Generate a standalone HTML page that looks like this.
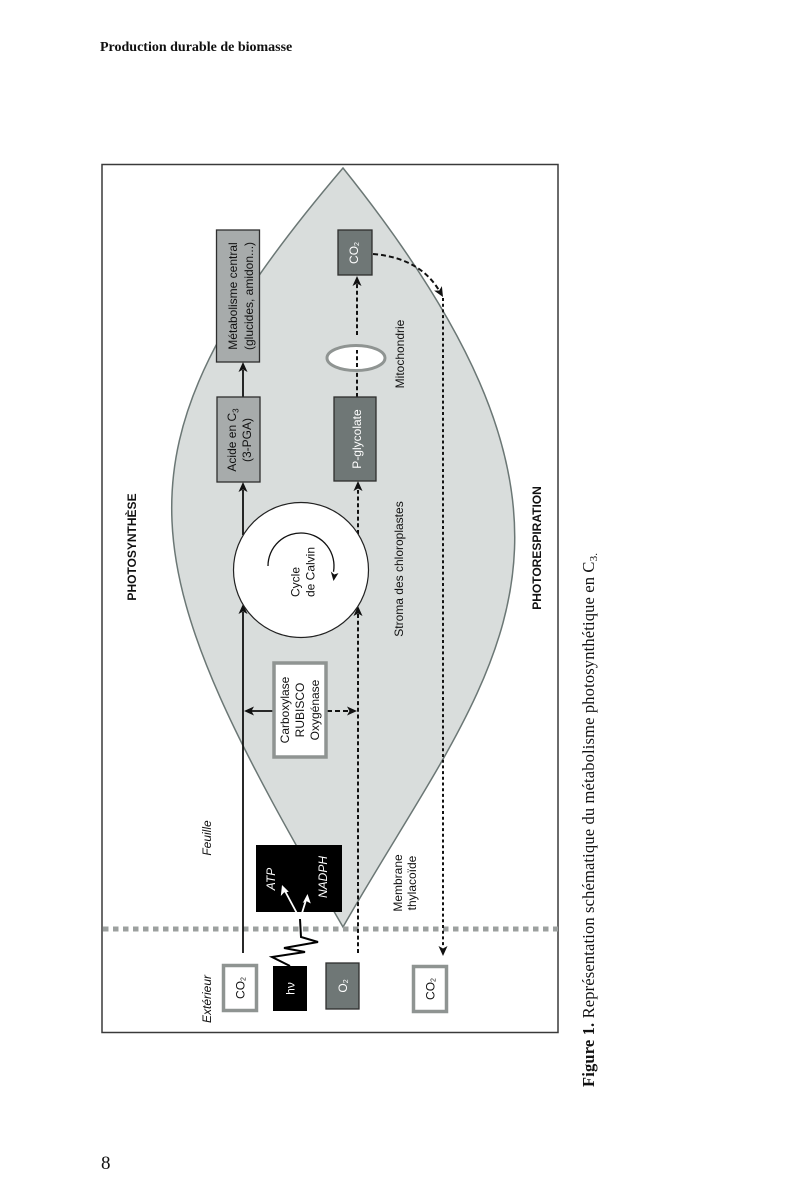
<!DOCTYPE html>
<html><head><meta charset="utf-8"><style>
html,body{margin:0;padding:0;background:#fff;width:800px;height:1200px;overflow:hidden}
svg{display:block}
.s{font-family:"Liberation Sans",Arial,sans-serif;font-size:12px;fill:#111}
.b{font-weight:bold}
.i{font-style:italic}
.w{fill:#fff}
.serif{font-family:"Liberation Serif","Times New Roman",serif;fill:#111}
</style></head><body>
<svg width="800" height="1200" viewBox="0 0 800 1200" xmlns="http://www.w3.org/2000/svg">
<rect x="0" y="0" width="800" height="1200" fill="#fff"/>
<!-- header -->
<text class="serif" x="100" y="51" font-size="14" font-weight="bold">Production durable de biomasse</text>
<text class="serif" x="101" y="1169" font-size="19">8</text>

<!-- frame -->
<rect x="102" y="164.5" width="456" height="868" fill="none" stroke="#3a3a3a" stroke-width="1.5"/>

<!-- leaf -->
<path d="M343 168 C96 458,134 567,343 927 C491 668,641 540,343 168 Z" fill="#d9dddc" stroke="#6b7775" stroke-width="1.5"/>

<!-- membrane dashed line -->
<line x1="103" y1="929" x2="558" y2="929" stroke="#9ca09f" stroke-width="5" stroke-dasharray="5.5 4.5"/>

<!-- solid main line x=243 -->
<line x1="243" y1="953" x2="243" y2="612" stroke="#111" stroke-width="1.8"/>
<path d="M243 604 L238.5 614 L243 611.5 L247.5 614 Z" fill="#111"/>
<line x1="243" y1="535" x2="243" y2="490" stroke="#111" stroke-width="1.8"/>
<path d="M243 482 L238.5 492 L243 489.5 L247.5 492 Z" fill="#111"/>
<line x1="243" y1="397" x2="243" y2="370" stroke="#111" stroke-width="1.8"/>
<path d="M243 362 L238.5 372 L243 369.5 L247.5 372 Z" fill="#111"/>

<!-- dotted O2 line x=358 -->
<line x1="358" y1="953" x2="358" y2="614" stroke="#111" stroke-width="2" stroke-dasharray="4 2.7"/>
<path d="M358 606 L353.5 616 L358 613.5 L362.5 616 Z" fill="#111"/>
<line x1="358" y1="534" x2="358" y2="490" stroke="#111" stroke-width="2" stroke-dasharray="4 2.7"/>
<path d="M358 481 L353.5 491 L358 488.5 L362.5 491 Z" fill="#111"/>

<!-- P-glycolate to mitochondria to CO2 -->
<line x1="357" y1="397" x2="357" y2="370" stroke="#111" stroke-width="2" stroke-dasharray="4 2.7"/>
<ellipse cx="356" cy="358" rx="29" ry="12.5" fill="#fff" stroke="#8f9492" stroke-width="3"/>
<line x1="357" y1="367" x2="357" y2="350" stroke="#111" stroke-width="2" stroke-dasharray="4 2.7"/>
<line x1="357" y1="335" x2="357" y2="284" stroke="#111" stroke-width="2" stroke-dasharray="4 2.7"/>
<path d="M357 276 L352.5 286 L357 283.5 L361.5 286 Z" fill="#111"/>

<!-- curved dashed arrow from CO2 -->
<path d="M373 254 Q420.5 258 440 292" fill="none" stroke="#111" stroke-width="2" stroke-dasharray="5 3"/>
<path d="M443 297 L438.5 287 L443 289.5 L447.5 287 Z" fill="#111" transform="rotate(-30 443 297)"/>
<!-- long dotted down line -->
<line x1="443" y1="298" x2="443" y2="947" stroke="#111" stroke-width="2" stroke-dasharray="3 2.7"/>
<path d="M443 956 L438.5 946 L443 948.5 L447.5 946 Z" fill="#111"/>

<!-- RUBISCO arrows -->
<line x1="273" y1="711" x2="251" y2="711" stroke="#111" stroke-width="1.8"/>
<path d="M244 711 L254 706.5 L251.5 711 L254 715.5 Z" fill="#111"/>
<line x1="327" y1="711" x2="350" y2="711" stroke="#111" stroke-width="2" stroke-dasharray="5 3"/>
<path d="M357 711 L347 706.5 L349.5 711 L347 715.5 Z" fill="#111"/>

<!-- Calvin circle -->
<circle cx="301" cy="570" r="67.5" fill="#fff" stroke="#222" stroke-width="1.2"/>
<path d="M268 566 A33 33 0 1 1 333.5 571.7" fill="none" stroke="#111" stroke-width="1.3"/>
<path d="M333.5 581 L329.5 572 L333.3 574.5 L337.3 572.5 Z" fill="#111" transform="rotate(8 333.5 581)"/>
<text class="s" transform="translate(299.5,597) rotate(-90)" text-anchor="start">Cycle</text>
<text class="s" transform="translate(314.5,597) rotate(-90)" text-anchor="start">de Calvin</text>

<!-- Metabolisme box -->
<rect x="216.5" y="230" width="43" height="132" fill="#a7abab" stroke="#2e2e2e" stroke-width="1.3"/>
<text class="s" font-size="12.5" transform="translate(237,296) rotate(-90)" text-anchor="middle">Métabolisme central</text>
<text class="s" font-size="12.5" transform="translate(253,296) rotate(-90)" text-anchor="middle">(glucides, amidon...)</text>

<!-- Acide box -->
<rect x="217" y="397" width="43" height="85" fill="#a7abab" stroke="#2e2e2e" stroke-width="1.3"/>
<text class="s" font-size="12.5" transform="translate(236,440) rotate(-90)" text-anchor="middle">Acide en C<tspan font-size="8" dy="2.5">3</tspan></text>
<text class="s" font-size="12.5" transform="translate(251,440) rotate(-90)" text-anchor="middle">(3-PGA)</text>

<!-- CO2 top box -->
<rect x="338" y="230" width="34" height="45" fill="#6f7776" stroke="#2e2e2e" stroke-width="1.3"/>
<text class="s w" transform="translate(358,253) rotate(-90)" text-anchor="middle">CO<tspan font-size="7" dy="1">2</tspan></text>

<!-- P-glycolate -->
<rect x="334" y="397" width="42" height="84" fill="#6f7776" stroke="#2e2e2e" stroke-width="1.3"/>
<text class="s w" transform="translate(361,439) rotate(-90)" text-anchor="middle">P-glycolate</text>

<!-- RUBISCO box -->
<rect x="274" y="663" width="52" height="94" fill="#fff" stroke="#8f9492" stroke-width="3.5"/>
<text class="s" transform="translate(289,710) rotate(-90)" text-anchor="middle">Carboxylase</text>
<text class="s" transform="translate(304,710) rotate(-90)" text-anchor="middle">RUBISCO</text>
<text class="s" transform="translate(319,710) rotate(-90)" text-anchor="middle">Oxygénase</text>

<!-- ATP / NADPH box -->
<rect x="256" y="845" width="86" height="67" fill="#000"/>
<text class="s w i" transform="translate(275,879) rotate(-90)" text-anchor="middle">ATP</text>
<text class="s w i" transform="translate(327,877) rotate(-90)" text-anchor="middle">NADPH</text>
<line x1="300" y1="919" x2="285" y2="891" stroke="#fff" stroke-width="1.8"/>
<path d="M282 885 L280.8 896 L284 892.5 L288.8 891.7 Z" fill="#fff"/>
<line x1="302" y1="913" x2="306" y2="900" stroke="#fff" stroke-width="1.8"/>
<path d="M307.5 894 L302.7 903 L306.3 901 L310.8 903.5 Z" fill="#fff"/>

<!-- zigzag light -->
<polyline points="300,919 301,937 318,942 284,948 305,952 272,957 290,966" fill="none" stroke="#000" stroke-width="2"/>

<!-- bottom boxes -->
<rect x="223.5" y="965.5" width="33" height="45" fill="#fff" stroke="#8f9492" stroke-width="3.5"/>
<text class="s" transform="translate(244.5,988) rotate(-90)" text-anchor="middle">CO<tspan font-size="7" dy="1">2</tspan></text>
<rect x="273" y="966" width="34" height="45" fill="#000"/>
<text class="s w" transform="translate(294.5,988.5) rotate(-90)" text-anchor="middle">hν</text>
<rect x="326" y="963" width="33" height="46" fill="#6f7776" stroke="#2e2e2e" stroke-width="1.3"/>
<text class="s w" transform="translate(347,986) rotate(-90)" text-anchor="middle">O<tspan font-size="7" dy="1">2</tspan></text>
<rect x="413.5" y="966.5" width="33" height="45" fill="#fff" stroke="#8f9492" stroke-width="3.5"/>
<text class="s" transform="translate(434.5,989) rotate(-90)" text-anchor="middle">CO<tspan font-size="7" dy="1">2</tspan></text>

<!-- labels -->
<text class="s b" font-size="12.5" transform="translate(136,547) rotate(-90)" text-anchor="middle">PHOTOSYNTHÈSE</text>
<text class="s b" transform="translate(541,548) rotate(-90)" text-anchor="middle">PHOTORESPIRATION</text>
<text class="s i" transform="translate(211,838) rotate(-90)" text-anchor="middle">Feuille</text>
<text class="s i" transform="translate(211,999) rotate(-90)" text-anchor="middle">Extérieur</text>
<text class="s" transform="translate(403,569) rotate(-90)" text-anchor="middle">Stroma des chloroplastes</text>
<text class="s" transform="translate(404,354) rotate(-90)" text-anchor="middle">Mitochondrie</text>
<text class="s" transform="translate(402,883) rotate(-90)" text-anchor="middle">Membrane</text>
<text class="s" transform="translate(416,883) rotate(-90)" text-anchor="middle">thylacoïde</text>

<!-- caption -->
<text class="serif" font-size="16.5" transform="translate(594,1087) rotate(-90)" textLength="534" lengthAdjust="spacing"><tspan font-weight="bold">Figure 1.</tspan> Représentation schématique du métabolisme photosynthétique en C<tspan font-size="11" dy="3">3.</tspan></text>
</svg>
</body></html>
